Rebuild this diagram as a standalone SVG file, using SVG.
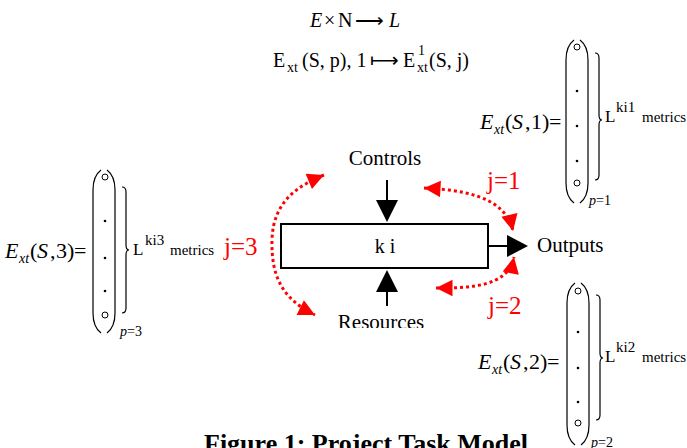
<svg xmlns="http://www.w3.org/2000/svg" width="687" height="448" viewBox="0 0 687 448">
<defs>
<style>
text{font-family:"Liberation Serif","Times New Roman",serif;fill:#000}
.it{font-style:italic}
.red{fill:#ff0000}
.par{fill:none;stroke:#000;stroke-width:1.2}
.circ{fill:none;stroke:#000;stroke-width:1}
.dot{fill:#000}
.arc{fill:none;stroke:#ff0000;stroke-width:3;stroke-dasharray:3 3}
.blk{stroke:#000;stroke-width:2;fill:none}
.eq{font-size:22px}
.sub{font-size:14px}
.L{font-size:17px}
.sup{font-size:15px}
.met{font-size:15px}
.p{font-size:14px}
</style>
<marker id="ra" viewBox="0 0 10 10" refX="10" refY="5" markerWidth="7" markerHeight="5.5" markerUnits="strokeWidth" orient="auto-start-reverse">
<path d="M0,0 L10,5 L0,10 z" fill="#ff0000"/>
</marker>
<clipPath id="clipRes"><rect x="300" y="290" width="150" height="38"/></clipPath>
</defs>

<g id="formula-top">
<text y="27" font-size="20"><tspan x="310" class="it">E</tspan><tspan x="324">×</tspan><tspan x="338">N</tspan><tspan x="355">⟶</tspan><tspan x="389" class="it">L</tspan></text>
<text y="67" font-size="20"><tspan x="273">E</tspan><tspan x="302">(S, p), 1</tspan><tspan x="370">⟼</tspan><tspan x="403">E</tspan><tspan x="429">(S, j)</tspan></text>
<text y="72" class="sub"><tspan x="287">xt</tspan><tspan x="417">xt</tspan></text>
<text x="418" y="55" class="sub">1</text>
</g>

<g id="task">
<rect x="281" y="224" width="207" height="44" fill="#fff" stroke="#000" stroke-width="2"/>
<text x="385" y="253" font-size="20" text-anchor="middle">k i</text>
</g>

<g id="controls">
<text x="385" y="165" font-size="21" text-anchor="middle">Controls</text>
</g>
<g id="outputs">
<text x="537" y="252" font-size="21">Outputs</text>
</g>
<g id="resources">
<text x="381" y="329" font-size="21" text-anchor="middle" clip-path="url(#clipRes)">Resources</text>
</g>

<g id="connectors">
<line x1="387" y1="180" x2="387" y2="202" class="blk"/>
<path d="M376,200 L398,200 L387,222 z" fill="#000"/>
<line x1="387" y1="306" x2="387" y2="290" class="blk"/>
<path d="M376,292 L398,292 L387,270 z" fill="#000"/>
<line x1="488" y1="246" x2="508" y2="246" class="blk"/>
<path d="M507,235 L507,257 L528,246 z" fill="#000"/>
<path class="arc" marker-start="url(#ra)" marker-end="url(#ra)" d="M324,175 C300,185 273,200 272,240 C271,280 285,300 315,315"/>
<path class="arc" marker-start="url(#ra)" marker-end="url(#ra)" d="M424,188 C460,190 505,195 513,231"/>
<path class="arc" marker-start="url(#ra)" marker-end="url(#ra)" d="M436,288 C470,288 508,287 514,257"/>
</g>

<g id="labels">
<text x="487" y="189" font-size="25" class="red">j=1</text>
<text x="488" y="314" font-size="25" class="red">j=2</text>
<text x="224" y="255" font-size="25" class="red">j=3</text>
</g>

<g id="matrix-1">
<text y="129" class="eq"><tspan x="480" class="it">E</tspan><tspan x="505">(</tspan><tspan x="512" class="it">S</tspan><tspan x="525">,</tspan><tspan x="531">1</tspan><tspan x="542">)</tspan><tspan x="549">=</tspan></text>
<text x="494" y="134" class="sub it">xt</text>
<path class="par" d="M574,40 Q566,46 566,60 L566,183 Q566,197 574,203"/>
<path class="par" d="M580,40 Q588,46 588,60 L588,183 Q588,197 580,203"/>
<circle class="circ" cx="577" cy="47" r="3"/>
<circle class="dot" cx="577" cy="91" r="1.3"/>
<circle class="dot" cx="577" cy="126" r="1.3"/>
<circle class="dot" cx="577" cy="161" r="1.3"/>
<circle class="circ" cx="577" cy="183" r="3"/>
<path class="par" stroke-width="1" d="M595,53 Q599,53 599,58 L599,115 Q599,120 602,120 Q599,120 599,125 L599,175 Q599,180 595,180"/>
<text x="605" y="122" class="L">L</text>
<text x="616" y="112" class="sup">ki1</text>
<text x="642" y="122" class="met">metrics</text>
<text x="589" y="205" class="p"><tspan class="it">p</tspan>=1</text>
</g>

<g id="matrix-3">
<text y="258" class="eq"><tspan x="5" class="it">E</tspan><tspan x="30">(</tspan><tspan x="37" class="it">S</tspan><tspan x="50">,</tspan><tspan x="56">3</tspan><tspan x="67">)</tspan><tspan x="74">=</tspan></text>
<text x="19" y="263" class="sub it">xt</text>
<path class="par" d="M101,170 Q93,176 93,190 L93,313 Q93,327 101,333"/>
<path class="par" d="M107,170 Q115,176 115,190 L115,313 Q115,327 107,333"/>
<circle class="circ" cx="105" cy="177" r="3"/>
<circle class="dot" cx="105" cy="221" r="1.3"/>
<circle class="dot" cx="105" cy="258" r="1.3"/>
<circle class="dot" cx="105" cy="291" r="1.3"/>
<circle class="circ" cx="105" cy="315" r="3"/>
<path class="par" stroke-width="1" d="M122,187 Q126,187 126,192 L126,245 Q126,250 129,250 Q126,250 126,255 L126,308 Q126,313 122,313"/>
<text x="133" y="255" class="L">L</text>
<text x="145" y="245" class="sup">ki3</text>
<text x="170" y="255" class="met">metrics</text>
<text x="120" y="336" class="p"><tspan class="it">p</tspan>=3</text>
</g>

<g id="matrix-2">
<text y="369" class="eq"><tspan x="478" class="it">E</tspan><tspan x="503">(</tspan><tspan x="510" class="it">S</tspan><tspan x="523">,</tspan><tspan x="529">2</tspan><tspan x="540">)</tspan><tspan x="547">=</tspan></text>
<text x="492" y="374" class="sub it">xt</text>
<path class="par" d="M575,283 Q567,289 567,303 L567,425 Q567,439 575,445"/>
<path class="par" d="M581,283 Q589,289 589,303 L589,425 Q589,439 581,445"/>
<circle class="circ" cx="578" cy="291" r="3"/>
<circle class="dot" cx="578" cy="332" r="1.3"/>
<circle class="dot" cx="578" cy="368" r="1.3"/>
<circle class="dot" cx="578" cy="402" r="1.3"/>
<circle class="circ" cx="578" cy="423" r="3"/>
<path class="par" stroke-width="1" d="M596,295 Q600,295 600,300 L600,353 Q600,358 603,358 Q600,358 600,363 L600,415 Q600,420 596,420"/>
<text x="605" y="362" class="L">L</text>
<text x="616" y="352" class="sup">ki2</text>
<text x="642" y="362" class="met">metrics</text>
<text x="591" y="447" class="p"><tspan class="it">p</tspan>=2</text>
</g>

<g id="caption">
<text x="204" y="452" font-size="26" font-weight="bold">Figure 1: Project Task Model</text>
</g>
</svg>
